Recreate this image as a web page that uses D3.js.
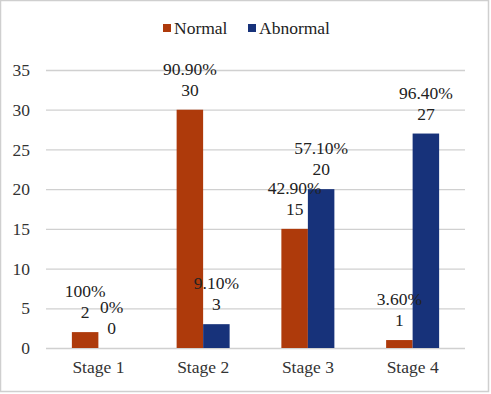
<!DOCTYPE html>
<html>
<head>
<meta charset="utf-8">
<script src="https://cdn.jsdelivr.net/npm/d3@7"></script>
<style>
  body { margin: 0; background: #fff; }
</style>
</head>
<body>
<div id="chart"></div>
<script>
const stages = ["Stage 1", "Stage 2", "Stage 3", "Stage 4"];
const seriesNames = ["Normal", "Abnormal"];
const normalValues = [2, 30, 15, 1];
const abnormalValues = [0, 3, 20, 27];
const normalPct = ["100%", "90.90%", "42.90%", "3.60%"];
const abnormalPct = ["0%", "9.10%", "57.10%", "96.40%"];
const yTicks = [0, 5, 10, 15, 20, 25, 30, 35];
const colors = { Normal: "#AE3A0B", Abnormal: "#17327A" };
const serif = "'Liberation Serif', 'Times New Roman', Times, 'DejaVu Serif', serif";

const fullW = 491, fullH = 394;
const margin = { top: 70, right: 26, bottom: 46, left: 46 };
const width = fullW - margin.left - margin.right;
const height = fullH - margin.top - margin.bottom;

const svg = d3.select("#chart").append("svg")
  .attr("width", fullW)
  .attr("height", fullH)
  .style("font-family", serif);

// outer border
svg.append("rect")
  .attr("x", 0.5).attr("y", 0.5)
  .attr("width", fullW - 3).attr("height", fullH - 3)
  .attr("fill", "none")
  .attr("stroke", "#cfcfcf")
  .attr("stroke-width", 1.5);

const g = svg.append("g").attr("transform", `translate(${margin.left},${margin.top})`);

const x = d3.scaleBand().domain(stages).range([0, width]).paddingInner(0).paddingOuter(0);
const x1 = d3.scaleBand().domain(seriesNames).range([x.bandwidth() / 2 - 26.5, x.bandwidth() / 2 + 26.5]);
const y = d3.scaleLinear().domain([0, 35]).range([height, 0]);

// grid
g.append("g")
  .call(d3.axisLeft(y).tickValues(yTicks).tickSize(-width).tickFormat(""))
  .call(a => a.select(".domain").remove())
  .call(a => a.selectAll("line").attr("stroke", "#d0d0d0").attr("stroke-width", 1.3));

// y axis labels
g.append("g")
  .call(d3.axisLeft(y).tickValues(yTicks).tickSize(0).tickPadding(16))
  .attr("font-family", null)
  .call(a => a.select(".domain").remove())
  .call(a => a.selectAll("text").style("font-size", "17.5px").style("font-family", serif).attr("fill", "#333"));

// x axis labels
g.append("g")
  .attr("transform", `translate(0,${height})`)
  .call(d3.axisBottom(x).tickSize(0).tickPadding(13))
  .attr("font-family", null)
  .call(a => a.select(".domain").remove())
  .call(a => a.selectAll("text").style("font-size", "17.5px").style("font-family", serif).attr("fill", "#333"));

const rows = stages.map((s, i) => ({
  stage: s,
  bars: [
    { key: "Normal", value: normalValues[i], pct: normalPct[i] },
    { key: "Abnormal", value: abnormalValues[i], pct: abnormalPct[i] }
  ]
}));

const groups = g.selectAll(".grp")
  .data(rows)
  .enter().append("g")
  .attr("class", "grp")
  .attr("transform", d => `translate(${x(d.stage)},0)`);

groups.selectAll("rect")
  .data(d => d.bars)
  .enter().append("rect")
  .attr("x", d => x1(d.key))
  .attr("width", x1.bandwidth())
  .attr("y", d => y(d.value))
  .attr("height", d => height - y(d.value))
  .attr("fill", d => colors[d.key]);

const labels = groups.selectAll(".lbl")
  .data(d => d.bars)
  .enter().append("text")
  .attr("class", "lbl")
  .attr("text-anchor", "middle")
  .style("font-size", "17.5px")
  .style("font-family", serif)
  .attr("fill", "#222");

labels.append("tspan")
  .attr("x", d => x1(d.key) + x1.bandwidth() / 2)
  .attr("y", d => y(d.value) - 35)
  .text(d => d.pct);
labels.append("tspan")
  .attr("x", d => x1(d.key) + x1.bandwidth() / 2)
  .attr("y", d => y(d.value) - 14)
  .text(d => d.value);

// legend
const legend = svg.append("g").attr("transform", "translate(163,28)");
const legendX = [0, 85];
seriesNames.forEach((name, i) => {
  const lg = legend.append("g").attr("transform", `translate(${legendX[i]},0)`);
  lg.append("rect")
    .attr("x", 0).attr("y", -4)
    .attr("width", 8).attr("height", 8)
    .attr("fill", colors[name]);
  lg.append("text")
    .attr("x", 11).attr("y", 6)
    .style("font-size", "17.5px")
    .style("font-family", serif)
    .attr("fill", "#222")
    .text(name);
});
</script>
</body>
</html>
